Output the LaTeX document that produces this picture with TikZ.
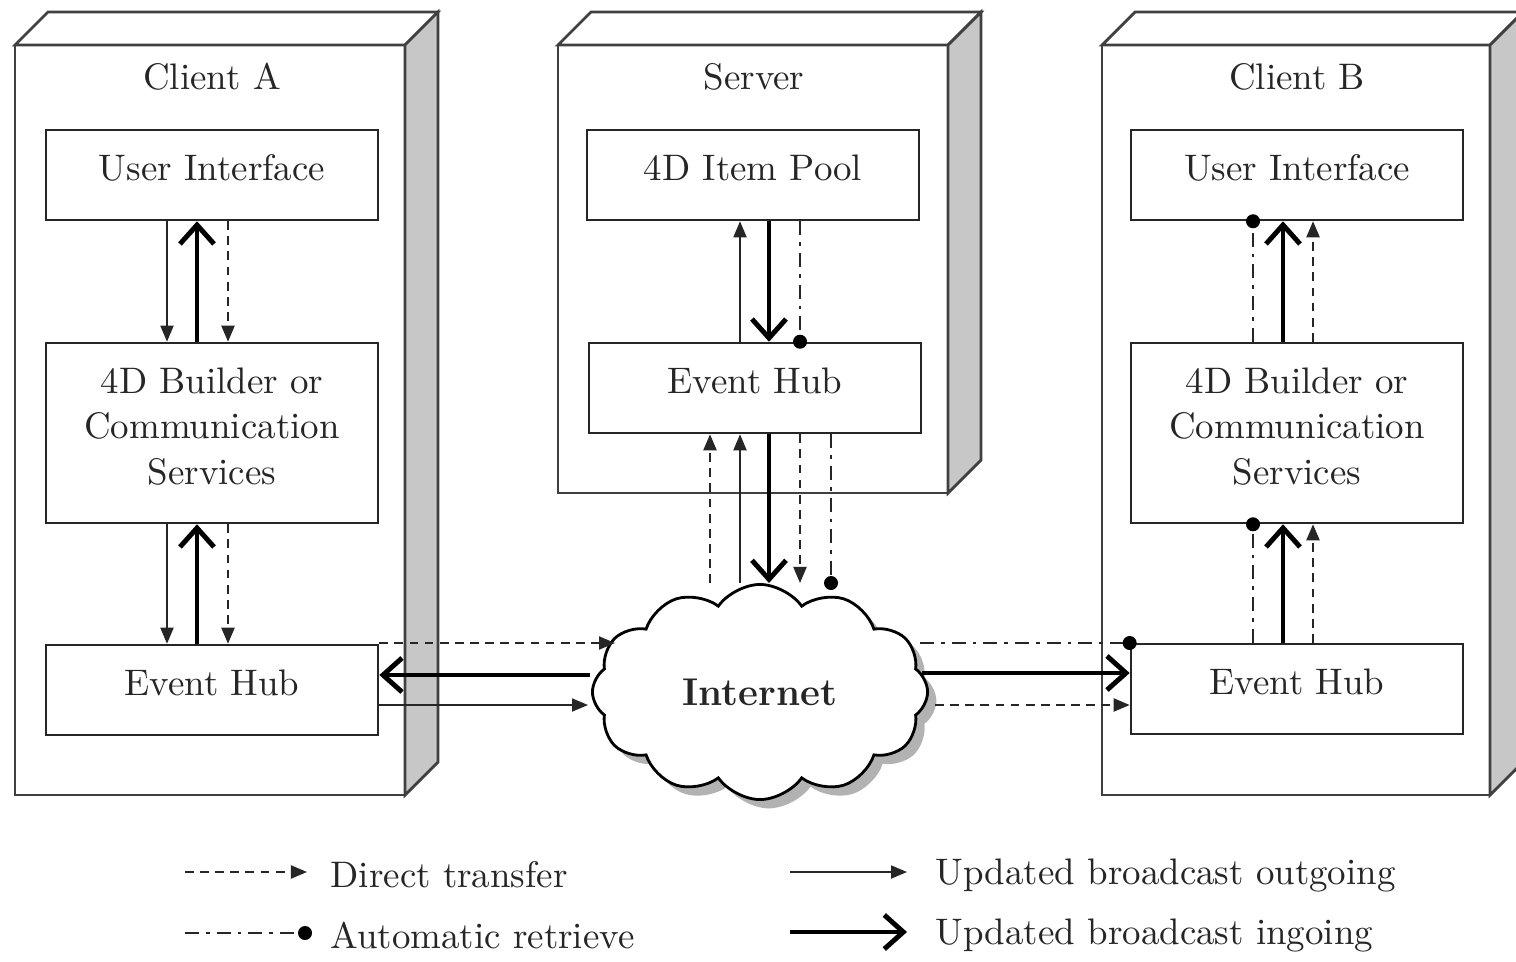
\documentclass[tikz,border=0pt]{standalone}
\usetikzlibrary{arrows.meta,shapes.symbols,shadows}
\begin{document}
\begin{tikzpicture}[x=0.01cm,y=-0.01cm,
  every node/.style={font=\fontsize{10.5}{13}\selectfont, text=black!85},
  box/.style={draw=black!85, line width=0.7pt, minimum width=3.32cm, minimum height=0.9cm, inner sep=0pt, align=center, fill=white, text depth=4pt},
  tallbox/.style={box, minimum height=1.8cm},
  cont/.style={draw=black!75, line width=0.8pt},
  thinarr/.style={draw=black!85, line width=0.5pt, -{Triangle[length=1.6mm,width=1.3mm]}},
  thickarr/.style={draw=black, line width=1.4pt, -{Straight Barb[length=1.9mm,width=3.4mm]}},
  dasharr/.style={draw=black!85, line width=0.6pt, dash pattern=on 2.5pt off 1.8pt, -{Triangle[length=1.6mm,width=1.3mm]}},
  autoarr/.style={draw=black!85, line width=0.6pt, dash pattern=on 4pt off 2pt on 1pt off 2pt},
  enddot/.style={circle, fill=black, inner sep=0pt, minimum size=1.4mm},
  legtext/.style={anchor=west, inner sep=0pt},
]
\useasboundingbox (0,0) rectangle (1516,961);
\clip (0,0) rectangle (1516,961);
\fill[white] (0,0) rectangle (1516,961);

\newcommand\contbox[4]{%
  \filldraw[cont, fill=white] (#1,#2) -- (#1+33,#2-33) -- (#3+33,#2-33) -- (#3,#2) -- cycle;
  \filldraw[cont, fill=black!22] (#3,#2) -- (#3+33,#2-33) -- (#3+33,#4-33) -- (#3,#4) -- cycle;
  \draw[cont] (#1,#2) rectangle (#3,#4);}
\contbox{15}{45}{405}{795}
\contbox{558}{45}{948}{493}
\contbox{1102}{45}{1490}{795}

% titles
\node (tA) at (212,77) {Client A};
\node (tS) at (754,77) {Server};
\node (tB) at (1297,77) {Client B};

% boxes
\node[box] (uiA) at (212,175) {User Interface};
\node[tallbox] (bA) at (212,433) {4D Builder or\\Communication\\Services};
\node[box] (ehA) at (212,690) {Event Hub};
\node[box] (pool) at (753,175) {4D Item Pool};
\node[box] (ehS) at (755,388) {Event Hub};
\node[box] (uiB) at (1297,175) {User Interface};
\node[tallbox] (bB) at (1297,433) {4D Builder or\\Communication\\Services};
\node[box] (ehB) at (1297,689) {Event Hub};

% cloud
\node[cloud, cloud puffs=12, cloud puff arc=110, aspect=1.55, draw=black, line width=0.8pt, fill=white,
  minimum width=3.35cm, minimum height=2.15cm, inner sep=0pt,
  drop shadow={shadow xshift=2.5pt, shadow yshift=-2.5pt, opacity=0.6}] (net) at (760,692)
  {\fontsize{11}{13}\selectfont\bfseries Internet};

% column coordinates
\coordinate (a1) at (167,0); \coordinate (a2) at (197,0); \coordinate (a3) at (228,0);
\coordinate (s0) at (710,0); \coordinate (s1) at (740,0); \coordinate (s2) at (769,0);
\coordinate (s3) at (800,0); \coordinate (s4) at (831,0);
\coordinate (b1) at (1253,0); \coordinate (b2) at (1283,0); \coordinate (b3) at (1313,0);
\coordinate (netTop) at (0,583);

% Client A
\draw[thinarr] (a1 |- uiA.south) -- (a1 |- bA.north);
\draw[thickarr] (a2 |- bA.north) -- (a2 |- uiA.south);
\draw[dasharr] (a3 |- uiA.south) -- (a3 |- bA.north);
\draw[thinarr] (a1 |- bA.south) -- (a1 |- ehA.north);
\draw[thickarr] (a2 |- ehA.north) -- (a2 |- bA.south);
\draw[dasharr] (a3 |- bA.south) -- (a3 |- ehA.north);

% Server
\draw[thinarr] (s1 |- ehS.north) -- (s1 |- pool.south);
\draw[thickarr] (s2 |- pool.south) -- (s2 |- ehS.north);
\draw[autoarr] (s3 |- pool.south) -- (s3 |- ehS.north) node[enddot]{};
\draw[dasharr] (s0 |- netTop) -- (s0 |- ehS.south);
\draw[thinarr] (s1 |- netTop) -- (s1 |- ehS.south);
\draw[thickarr] (s2 |- ehS.south) -- (s2 |- netTop);
\draw[dasharr] (s3 |- ehS.south) -- (s3 |- netTop);
\draw[autoarr] (s4 |- ehS.south) -- (s4 |- netTop) node[enddot]{};

% Client B
\draw[autoarr] (b1 |- bB.north) -- (b1 |- uiB.south) node[enddot]{};
\draw[thickarr] (b2 |- bB.north) -- (b2 |- uiB.south);
\draw[dasharr] (b3 |- bB.north) -- (b3 |- uiB.south);
\draw[autoarr] (b1 |- ehB.north) -- (b1 |- bB.south) node[enddot]{};
\draw[thickarr] (b2 |- ehB.north) -- (b2 |- bB.south);
\draw[dasharr] (b3 |- ehB.north) -- (b3 |- bB.south);

% horizontal
\coordinate (nL1) at (615,643); \coordinate (nL2) at (590,675); \coordinate (nL3) at (588,705);
\coordinate (nR1) at (920,643); \coordinate (nR2) at (922,673); \coordinate (nR3) at (935,705);
\draw[dasharr] (ehA.east |- nL1) -- (nL1);
\draw[thickarr] (nL2) -- (ehA.east |- nL2);
\draw[thinarr] (ehA.east |- nL3) -- (nL3);
\draw[autoarr] (nR1) -- (ehB.west |- nR1) node[enddot]{};
\draw[thickarr] (nR2) -- (ehB.west |- nR2);
\draw[dasharr] (nR3) -- (ehB.west |- nR3);

% legend
\coordinate (l1a) at (185,872); \coordinate (l1b) at (307,872);
\coordinate (l2a) at (185,933); \coordinate (l2b) at (305,933);
\coordinate (l3a) at (790,872); \coordinate (l3b) at (907,872);
\coordinate (l4a) at (790,932); \coordinate (l4b) at (907,932);
\draw[dasharr] (l1a) -- (l1b);
\draw[autoarr] (l2a) -- (l2b) node[enddot]{};
\draw[thinarr] (l3a) -- (l3b);
\draw[thickarr] (l4a) -- (l4b);
\node[legtext] (lt1) at (330,875) {Direct transfer};
\node[legtext] (lt2) at (330,935) {Automatic retrieve};
\node[legtext] (lt3) at (935,875) {Updated broadcast outgoing};
\node[legtext] (lt4) at (935,935) {Updated broadcast ingoing};
\end{tikzpicture}
\end{document}
